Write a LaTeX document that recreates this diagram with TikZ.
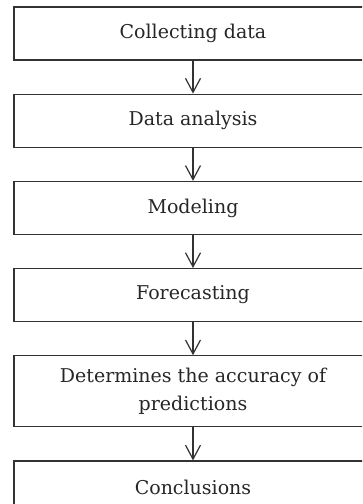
\documentclass[tikz,border=0pt]{standalone}
\usepackage{fontspec}
\setmainfont{DejaVu Serif}
\usepackage{tikz}
\usetikzlibrary{
	arrows.meta,
	positioning
}
\definecolor{BoxLine}{RGB}{50,50,50}

\begin{document}
\begin{tikzpicture}[x=1pt, y=1pt,
		stage/.style={draw=BoxLine, line width=1.2pt, minimum width=358pt, minimum height=53pt,
			inner sep=0pt, align=center, text=black!85, font=\fontsize{19}{28}\selectfont},
		flow/.style={draw=BoxLine, line width=1.2pt, -{Straight Barb[length=14pt, width=15pt, line width=1.2pt]}}]
		\useasboundingbox (0,0) rectangle (362,-504);
		\clip (0,0) rectangle (362,-504);
		
		% stages
		\node[stage] (collect) at (193,-33.5) {Collecting data};
		\node[stage, below=33pt of collect] (analysis) {Data analysis};
		\node[stage, below=33pt of analysis] (model) {Modeling};
		\node[stage, below=33pt of model] (forecast) {Forecasting};
		\node[stage, below=33pt of forecast, minimum height=71pt] (accuracy) {Determines the accuracy of\\predictions};
		\node[stage, below=33pt of accuracy] (concl) {Conclusions};
		
		% arrows
		\draw[flow] (collect) -- (analysis);
		\draw[flow] (analysis) -- (model);
		\draw[flow] (model) -- (forecast);
		\draw[flow] (forecast) -- (accuracy);
		\draw[flow] (accuracy) -- (concl);
	\end{tikzpicture}
\end{document}
